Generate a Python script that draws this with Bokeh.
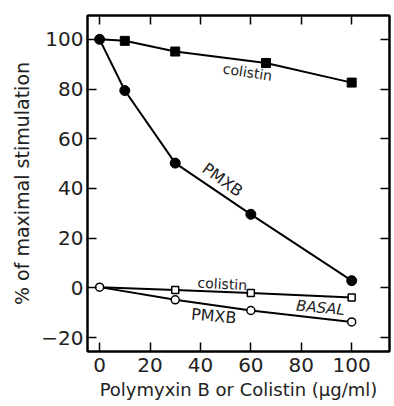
import math
from bokeh.plotting import figure
from bokeh.models import LinearAxis, Range1d, FixedTicker, Label
from bokeh.embed import file_html
from bokeh.resources import INLINE

# Data
x_col_stim = [0, 10, 30, 66, 100]
y_col_stim = [100, 99.4, 95.1, 90.5, 82.6]
x_pmxb_stim = [0, 10, 30, 60, 100]
y_pmxb_stim = [100, 79.4, 50.2, 29.6, 2.9]
x_col_basal = [0, 30, 60, 100]
y_col_basal = [0.3, -0.9, -2.1, -3.9]
x_pmxb_basal = [0, 30, 60, 100]
y_pmxb_basal = [0.3, -4.8, -9.1, -13.7]
x_ticks = [0, 20, 40, 60, 80, 100]
y_ticks = [-20, 0, 20, 40, 60, 80, 100]

FONT = "DejaVu Sans"

p = figure(width=394, height=404, output_backend="svg", toolbar_location=None,
           x_range=Range1d(-4.8, 115), y_range=Range1d(-25.6, 109.6),
           min_border_left=87, min_border_right=5, min_border_top=15, min_border_bottom=53)
p.grid.visible = False
p.outline_line_color = "black"
p.outline_line_width = 2
p.background_fill_color = "white"

for ax in p.xaxis:
    ax.ticker = FixedTicker(ticks=x_ticks)
for ax in p.yaxis:
    ax.ticker = FixedTicker(ticks=y_ticks)

def style(ax):
    ax.major_tick_in = 9
    ax.major_tick_out = 0
    ax.minor_tick_line_color = None
    ax.major_tick_line_color = "black"
    ax.major_tick_line_width = 1.5
    ax.axis_line_color = "black"
    ax.axis_line_width = 2
    ax.major_label_text_font = FONT
    ax.major_label_text_font_size = "20px"
    ax.major_label_text_color = "#222222"
    ax.axis_label_text_font = FONT
    ax.axis_label_text_font_style = "normal"
    ax.axis_label_text_font_size = "18px"
    ax.axis_label_text_color = "#222222"

style(p.xaxis[0])
style(p.yaxis[0])
p.xaxis[0].axis_label = "Polymyxin B or Colistin (\u03bcg/ml)"
p.yaxis[0].axis_label = "% of maximal stimulation"
p.yaxis[0].axis_label_text_font_size = "19px"
p.xaxis[0].major_label_standoff = 6
p.yaxis[0].major_label_standoff = 4
p.xaxis[0].axis_label_standoff = 4
p.yaxis[0].axis_label_standoff = 5

top = LinearAxis(ticker=FixedTicker(ticks=x_ticks), major_label_overrides={t: "" for t in x_ticks})
style(top)
top.major_label_standoff = 0
p.add_layout(top, "above")
right = LinearAxis(ticker=FixedTicker(ticks=y_ticks), major_label_overrides={t: "" for t in y_ticks})
style(right)
right.major_label_standoff = 0
p.add_layout(right, "right")

lw = 2
p.line(x_col_stim, y_col_stim, line_color="black", line_width=lw)
p.line(x_pmxb_stim, y_pmxb_stim, line_color="black", line_width=lw)
p.line(x_col_basal, y_col_basal, line_color="black", line_width=lw)
p.line(x_pmxb_basal, y_pmxb_basal, line_color="black", line_width=lw)

p.scatter(x_col_stim[1:], y_col_stim[1:], marker="square", size=9, fill_color="black", line_color="black")
p.scatter(x_pmxb_stim, y_pmxb_stim, marker="circle", size=10, fill_color="black", line_color="black")
p.scatter(x_col_basal[1:], y_col_basal[1:], marker="square", size=7, fill_color="white", line_color="black", line_width=1.5)
p.scatter(x_pmxb_basal, y_pmxb_basal, marker="circle", size=8, fill_color="white", line_color="black", line_width=1.5)

def lab(x, y, text, ang, size="14px", style="normal"):
    p.add_layout(Label(x=x, y=y, text=text, angle=math.radians(ang),
                       text_font=FONT, text_font_size=size, text_font_style=style,
                       text_align="center", text_baseline="middle", text_color="#222222"))

lab(58.7, 86.8, "colistin", -9)
lab(48.8, 43.5, "PMXB", -36, "16px")
lab(48.7, 1.6, "colistin", -3)
lab(87.6, -8.0, "BASAL", -5, "15px", "italic")
lab(45.3, -11.3, "PMXB", -5, "16px")

open("out.html", "w").write(file_html(p, INLINE))
